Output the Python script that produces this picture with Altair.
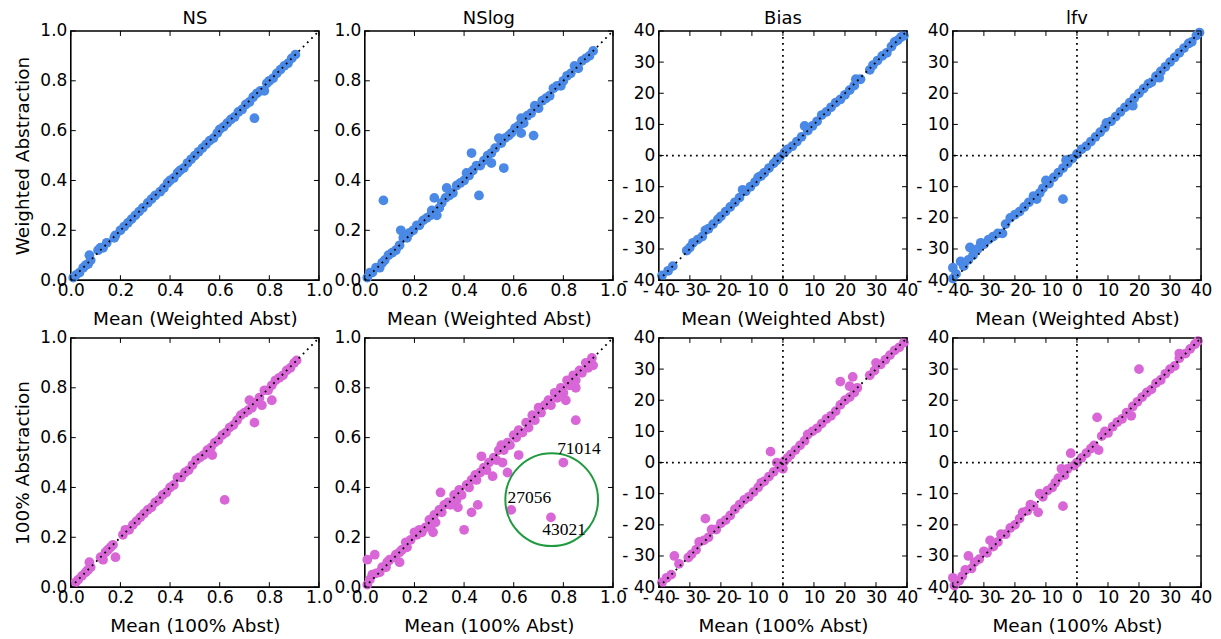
import altair as alt
import pandas as pd

FONT = "DejaVu Sans"
SERIF = "Liberation Serif"
BLUE = "#4a89e6"
PINK = "#d966d6"
GREEN = "#1f9a3f"
W, H = 249, 250
TICK = 5
LABEL_SIZE = 17
TITLE_SIZE = 18.5

METRICS = ["NS", "NSlog", "Bias", "lfv"]
ROW_YTITLES = ["Weighted Abstraction", "100% Abstraction"]
ROW_XTITLES = ["Mean (Weighted Abst)", "Mean (100% Abst)"]
ROW_COLORS = [BLUE, PINK]

UNIT_DOMAIN = [0.0, 1.0]
UNIT_TICKS = [0.0, 0.2, 0.4, 0.6, 0.8, 1.0]
PCT_DOMAIN = [-40, 40]
PCT_TICKS = [-40, -30, -20, -10, 0, 10, 20, 30, 40]

# ---------------- data (x = mean, y = abstraction) ----------------
NS_W = [(0.01,0.01),(0.02,0.02),(0.035,0.03),(0.05,0.05),(0.06,0.06),(0.07,0.065),(0.075,0.10),(0.08,0.08),
        (0.11,0.12),(0.12,0.13),(0.13,0.13),(0.145,0.15),(0.175,0.17),(0.18,0.18),(0.20,0.20),(0.215,0.215),
        (0.23,0.23),(0.245,0.245),(0.26,0.26),(0.275,0.275),(0.29,0.29),(0.31,0.31),(0.325,0.325),(0.34,0.34),
        (0.36,0.355),(0.375,0.37),(0.39,0.39),(0.40,0.40),(0.415,0.41),(0.43,0.43),(0.44,0.44),(0.455,0.45),
        (0.47,0.47),(0.485,0.485),(0.50,0.50),(0.515,0.515),(0.53,0.53),(0.545,0.545),(0.56,0.56),(0.575,0.57),
        (0.59,0.59),(0.60,0.605),(0.615,0.615),(0.63,0.63),(0.645,0.645),(0.66,0.655),(0.675,0.675),(0.69,0.685),
        (0.705,0.705),(0.72,0.715),(0.735,0.735),(0.74,0.65),(0.75,0.75),(0.765,0.76),(0.78,0.76),(0.79,0.79),
        (0.80,0.80),(0.815,0.81),(0.83,0.83),(0.845,0.845),(0.86,0.86),(0.875,0.87),(0.89,0.89),(0.905,0.905)]

NSLOG_W = [(0.01,0.01),(0.02,0.03),(0.03,0.03),(0.045,0.05),(0.06,0.05),(0.07,0.07),(0.08,0.08),(0.095,0.10),
           (0.11,0.11),(0.125,0.12),(0.14,0.14),(0.155,0.17),(0.17,0.17),(0.18,0.19),(0.195,0.20),(0.21,0.22),
           (0.22,0.22),(0.235,0.24),(0.25,0.25),(0.265,0.26),(0.27,0.28),(0.29,0.26),(0.30,0.29),(0.31,0.31),
           (0.325,0.33),(0.34,0.34),(0.355,0.35),(0.37,0.38),(0.385,0.39),(0.40,0.40),(0.41,0.43),(0.42,0.42),
           (0.435,0.44),(0.45,0.46),(0.465,0.46),(0.48,0.48),(0.495,0.50),(0.51,0.51),(0.525,0.53),(0.54,0.57),
           (0.55,0.55),(0.565,0.57),(0.58,0.58),(0.59,0.59),(0.605,0.61),(0.62,0.62),(0.63,0.65),(0.64,0.63),
           (0.655,0.66),(0.67,0.67),(0.685,0.70),(0.70,0.69),(0.715,0.72),(0.73,0.73),(0.745,0.74),(0.76,0.77),
           (0.775,0.78),(0.79,0.78),(0.80,0.80),(0.815,0.82),(0.83,0.83),(0.845,0.86),(0.86,0.85),(0.875,0.88),
           (0.89,0.89),(0.905,0.90),(0.92,0.92),
           (0.075,0.32),(0.145,0.20),(0.28,0.33),(0.33,0.37),(0.43,0.51),(0.46,0.34),(0.51,0.47),(0.56,0.45),
           (0.63,0.59),(0.68,0.58)]

BIAS_W = [(-39,-38.5),(-37,-37),(-35.5,-35.5),(-31,-30.5),(-30,-29.5),(-29,-28),(-27.5,-27),(-26,-26),(-25,-24),
          (-24,-23.5),(-22.5,-22),(-21,-20.5),(-20,-19.5),(-18.5,-18),(-17,-16.5),(-15.5,-15),(-14,-13.5),(-13,-11),
          (-12,-11.5),(-10.5,-10),(-9,-8.5),(-8,-7),(-7,-6.5),(-6,-5.5),(-4.5,-4),(-3,-2.5),(-2,-1.5),(-1,-0.5),
          (0.5,1),(1.5,2),(3,3),(4.5,4.5),(6,6),(7,9.5),(8,8),(9.5,9.5),(11,11),(12.5,13),(14,14),(15.5,15.5),
          (17,17),(18.5,18),(20,19.5),(21.5,21),(23,22.5),(23.5,24.5),(25,24.5),(28,27.5),(29,29),(30.5,30.5),
          (32,32),(33.5,33),(35,35),(36,36.5),(37,37),(38,38),(39,38.5)]

LFV_W = [(-40,-36),(-40,-39.5),(-39,-38),(-37.5,-34),(-36.5,-35.5),(-35,-33.5),(-34.5,-29.5),(-33.5,-32),(-32,-30),
         (-31,-28),(-30,-28.5),(-28.5,-27),(-27,-26),(-25.5,-25),(-24,-25),(-23,-22),(-21.5,-20),(-20,-19),
         (-18.5,-18),(-17,-16.5),(-15.5,-15),(-14,-13),(-13,-14),(-12,-12),(-11,-10.5),(-10,-8),(-9,-9),(-7.5,-7),
         (-6,-5.5),(-4.5,-4),(-4.5,-14),(-3.5,-1.5),(-3,-2.5),(-1.5,-1),(0,0.5),(1.5,2),(3,3),(4.5,4.5),(6,6),
         (7.5,7.5),(9,9),(9.5,10.5),(11,11),(12.5,12.5),(14,14),(15.5,15.5),(17,17),(18,16),(18.5,18.5),(20,20),
         (21.5,21.5),(23,23),(24,23.5),(25.5,25.5),(26.5,25),(27,27),(28.5,28.5),(30,30),(31.5,31.5),(33,33),
         (34.5,34.5),(36,36),(37,36.5),(38.5,38.5),(39.5,39.5)]

NS_100 = [(0.02,0.02),(0.03,0.03),(0.045,0.045),(0.06,0.06),(0.07,0.07),(0.075,0.10),(0.08,0.08),(0.12,0.12),
          (0.13,0.11),(0.14,0.14),(0.15,0.15),(0.16,0.16),(0.17,0.17),(0.18,0.12),(0.21,0.21),(0.22,0.23),
          (0.235,0.23),(0.25,0.25),(0.265,0.265),(0.28,0.28),(0.295,0.295),(0.31,0.31),(0.325,0.32),(0.34,0.34),
          (0.355,0.35),(0.37,0.37),(0.385,0.38),(0.40,0.40),(0.415,0.41),(0.43,0.44),(0.445,0.44),(0.46,0.46),
          (0.475,0.47),(0.49,0.49),(0.505,0.51),(0.52,0.52),(0.535,0.53),(0.55,0.55),(0.565,0.56),(0.57,0.53),
          (0.58,0.58),(0.595,0.59),(0.61,0.61),(0.62,0.35),(0.625,0.62),(0.64,0.64),(0.655,0.65),(0.67,0.67),
          (0.685,0.69),(0.70,0.70),(0.715,0.71),(0.72,0.75),(0.73,0.72),(0.74,0.66),(0.745,0.74),(0.76,0.76),
          (0.77,0.73),(0.78,0.79),(0.795,0.79),(0.81,0.81),(0.81,0.75),(0.825,0.83),(0.84,0.84),(0.855,0.85),
          (0.87,0.87),(0.885,0.88),(0.90,0.90),(0.91,0.91)]

NSLOG_100 = [(0.01,0.01),(0.02,0.03),(0.03,0.05),(0.045,0.055),(0.06,0.06),(0.07,0.08),(0.085,0.08),(0.09,0.10),
             (0.10,0.11),(0.12,0.12),(0.125,0.13),(0.14,0.14),(0.15,0.15),(0.165,0.18),(0.17,0.16),(0.185,0.19),
             (0.20,0.22),(0.21,0.21),(0.22,0.23),(0.23,0.22),(0.245,0.24),(0.26,0.27),(0.265,0.24),(0.28,0.29),
             (0.285,0.26),(0.30,0.31),(0.31,0.30),(0.32,0.33),(0.335,0.34),(0.345,0.33),(0.36,0.37),(0.37,0.35),
             (0.38,0.39),(0.39,0.37),(0.41,0.41),(0.42,0.40),(0.43,0.43),(0.445,0.45),(0.45,0.43),(0.465,0.46),
             (0.48,0.48),(0.49,0.47),(0.50,0.50),(0.52,0.52),(0.53,0.51),(0.54,0.55),(0.55,0.57),(0.56,0.55),
             (0.575,0.58),(0.585,0.57),(0.60,0.61),(0.61,0.60),(0.62,0.63),(0.635,0.62),(0.65,0.66),(0.66,0.64),
             (0.675,0.69),(0.685,0.67),(0.70,0.72),(0.71,0.70),(0.725,0.73),(0.74,0.75),(0.75,0.73),(0.765,0.78),
             (0.775,0.76),(0.79,0.80),(0.80,0.78),(0.815,0.83),(0.825,0.81),(0.84,0.85),(0.85,0.83),(0.865,0.87),
             (0.875,0.86),(0.89,0.90),(0.90,0.88),(0.915,0.92),
             (0.01,0.11),(0.04,0.13),(0.14,0.10),(0.275,0.22),(0.305,0.38),(0.375,0.32),(0.40,0.23),(0.43,0.30),
             (0.455,0.33),(0.47,0.525),(0.515,0.445),(0.555,0.50),(0.575,0.46),(0.59,0.31),(0.62,0.53),
             (0.75,0.28),(0.80,0.50),(0.81,0.75),(0.85,0.67),(0.85,0.80),(0.92,0.89)]

BIAS_100 = [(-39,-38.5),(-37.5,-37),(-36,-36),(-35,-30),(-33.5,-32.5),(-30.5,-30.5),(-29.5,-29.5),(-28,-28),
            (-27,-25.5),(-25.5,-25),(-25,-18),(-24,-24),(-23,-21.5),(-21.5,-21.5),(-20,-19.5),(-18.5,-18.5),
            (-17,-17),(-15.5,-15),(-14,-13.5),(-12.5,-12),(-11,-11),(-9.5,-9.5),(-8,-8),(-7,-6.5),(-6,-6),
            (-4.5,-4.5),(-4,3.5),(-3,-3),(-2,0),(-1,-1.5),(0,-2),(0.5,0.5),(1.5,1.5),(2.5,2.5),(4,4),(5.5,5.5),
            (7,7),(8,9),(9.5,10),(11,11),(12.5,12.5),(14,14),(15.5,15),(17,16.5),(18.5,18.5),(18.5,26),(20,20),
            (21.5,21),(21.5,24.5),(22.5,27.5),(23,22.5),(24,24),(28,28),(29.5,29.5),(30,32),(31.5,31.5),(33,33),
            (34.5,34.5),(36,36),(37.5,37),(39,38.5)]

LFV_100 = [(-40,-37),(-39.5,-39.5),(-38,-38),(-37,-36.5),(-36,-34.5),(-35,-30),(-34,-34),(-33,-32),(-31.5,-31),
           (-30,-28.5),(-29,-29),(-28,-25),(-27,-27),(-25.5,-25.5),(-24.5,-23),(-23,-23),(-21.5,-21),(-20,-20),
           (-18.5,-18),(-17.5,-16),(-16,-15.5),(-15,-13.5),(-14,-14),(-12.5,-16),(-12,-10),(-11,-11),(-9.5,-9),
           (-8,-8),(-7,-6.5),(-6,-5),(-5,-2),(-4.5,-14),(-4,-4),(-3,-2),(-2,3),(-1,-1),(0,0),(1.5,1.5),(3,3),
           (4.5,4.5),(5.5,5.5),(6.5,14.5),(7,4),(8,8.5),(9,10),(10,9.5),(11.5,11.5),(13,13),(14.5,14),(16,16),
           (17.5,15),(18,18),(19.5,19.5),(20,30),(21,21),(22.5,22.5),(24,23.5),(25.5,25.5),(27,26.5),(28.5,28.5),
           (30,30),(31.5,31),(33,33.5),(33,35),(35,35),(36.5,36.5),(38,38),(39,39)]

PANELS = [[NS_W, NSLOG_W, BIAS_W, LFV_W], [NS_100, NSLOG_100, BIAS_100, LFV_100]]

# annotation in the NSlog / 100% panel
ANNOT_CENTER_X = [0.753]
ANNOT_CENTER_Y = [0.351]
ANNOT_LABELS = ["71014", "27056", "43021"]
ANNOT_LX = [0.775, 0.575, 0.715]
ANNOT_LY = [0.556, 0.359, 0.231]


def make_axis(values, unit, title, is_x):
    kw = dict(values=values, ticks=False, tickSize=0, domain=False, grid=False,
              labelFlush=False, labelOverlap=False, labelFont=FONT, labelFontSize=LABEL_SIZE,
              labelColor="black", titleFont=FONT, titleFontSize=TITLE_SIZE,
              titleFontWeight="normal", titleColor="black", title=title)
    if unit:
        kw["format"] = ".1f"
    else:
        kw["labelExpr"] = "datum.value < 0 ? '- ' + abs(datum.value) : '' + datum.value"
    if is_x:
        kw.update(labelPadding=2, titlePadding=12)
    else:
        kw.update(labelPadding=4, titlePadding=7)
    return alt.Axis(**kw)


def panel(row, col):
    metric = METRICS[col]
    unit = metric in ("NS", "NSlog")
    dom = UNIT_DOMAIN if unit else PCT_DOMAIN
    tv = UNIT_TICKS if unit else PCT_TICKS
    sc = alt.Scale(domain=dom, nice=False, zero=False)
    xaxis = make_axis(tv, unit, ROW_XTITLES[row], True)
    yaxis = make_axis(tv, unit, ROW_YTITLES[row] if col == 0 else None, False)

    df = pd.DataFrame(PANELS[row][col], columns=["x", "y"])
    layers = [alt.Chart(df).mark_circle(size=96, color=ROW_COLORS[row], opacity=1).encode(
        x=alt.X("x:Q", scale=sc, axis=xaxis), y=alt.Y("y:Q", scale=sc, axis=yaxis))]

    if row == 1 and metric == "NSlog":
        cdf = pd.DataFrame({"x": ANNOT_CENTER_X, "y": ANNOT_CENTER_Y})
        layers.append(alt.Chart(cdf).mark_point(shape="circle", size=8650, filled=False,
                                                color=GREEN, strokeWidth=2, opacity=1).encode(
            x=alt.X("x:Q", scale=sc, axis=xaxis), y=alt.Y("y:Q", scale=sc, axis=yaxis)))

    dash = dict(color="black", strokeWidth=1.8, strokeDash=[1.8, 4.2])
    diag = pd.DataFrame({"x": [dom[0]], "y": [dom[0]], "x2": [dom[1]], "y2": [dom[1]]})
    layers.append(alt.Chart(diag).mark_rule(**dash).encode(
        x=alt.X("x:Q", scale=sc, axis=xaxis), y=alt.Y("y:Q", scale=sc, axis=yaxis), x2="x2:Q", y2="y2:Q"))

    if not unit:
        zdf = pd.DataFrame({"v": [0]})
        layers.append(alt.Chart(zdf).mark_rule(**dash).encode(x=alt.X("v:Q", scale=sc, axis=xaxis)))
        layers.append(alt.Chart(zdf).mark_rule(**dash).encode(y=alt.Y("v:Q", scale=sc, axis=yaxis)))

    tdf = pd.DataFrame({"v": tv})
    tick = dict(color="black", strokeWidth=1)
    layers.append(alt.Chart(tdf).mark_rule(**tick).encode(
        x=alt.X("v:Q", scale=sc, axis=xaxis), y=alt.value(H), y2=alt.value(H - TICK)))
    layers.append(alt.Chart(tdf).mark_rule(**tick).encode(
        x=alt.X("v:Q", scale=sc, axis=xaxis), y=alt.value(0), y2=alt.value(TICK)))
    layers.append(alt.Chart(tdf).mark_rule(**tick).encode(
        y=alt.Y("v:Q", scale=sc, axis=yaxis), x=alt.value(0), x2=alt.value(TICK)))
    layers.append(alt.Chart(tdf).mark_rule(**tick).encode(
        y=alt.Y("v:Q", scale=sc, axis=yaxis), x=alt.value(W - TICK), x2=alt.value(W)))

    if row == 1 and metric == "NSlog":
        ldf = pd.DataFrame({"x": ANNOT_LX, "y": ANNOT_LY, "t": ANNOT_LABELS})
        layers.append(alt.Chart(ldf).mark_text(align="left", baseline="middle", font=SERIF,
                                               fontSize=17.5, color="black").encode(
            x=alt.X("x:Q", scale=sc, axis=xaxis), y=alt.Y("y:Q", scale=sc, axis=yaxis), text="t:N"))

    ch = alt.layer(*layers).properties(width=W, height=H)
    if row == 0:
        ch = ch.properties(title=alt.TitleParams(metric, font=FONT, fontSize=18, fontWeight="normal",
                                                 color="black", offset=-6, anchor="middle",
                                                 frame="group"))
    return ch


charts = [panel(r, c) for r in range(2) for c in range(4)]

chart = alt.concat(*charts, columns=4, spacing=alt.RowColnumber(row=58, column=46),
                   bounds="flush").properties(
    padding={"left": 5, "top": 0, "right": 0, "bottom": 0}
).configure(font=FONT).configure_view(stroke="black", strokeWidth=1.6)

chart.save("out.html", embed_options={"renderer": "svg", "actions": False})
